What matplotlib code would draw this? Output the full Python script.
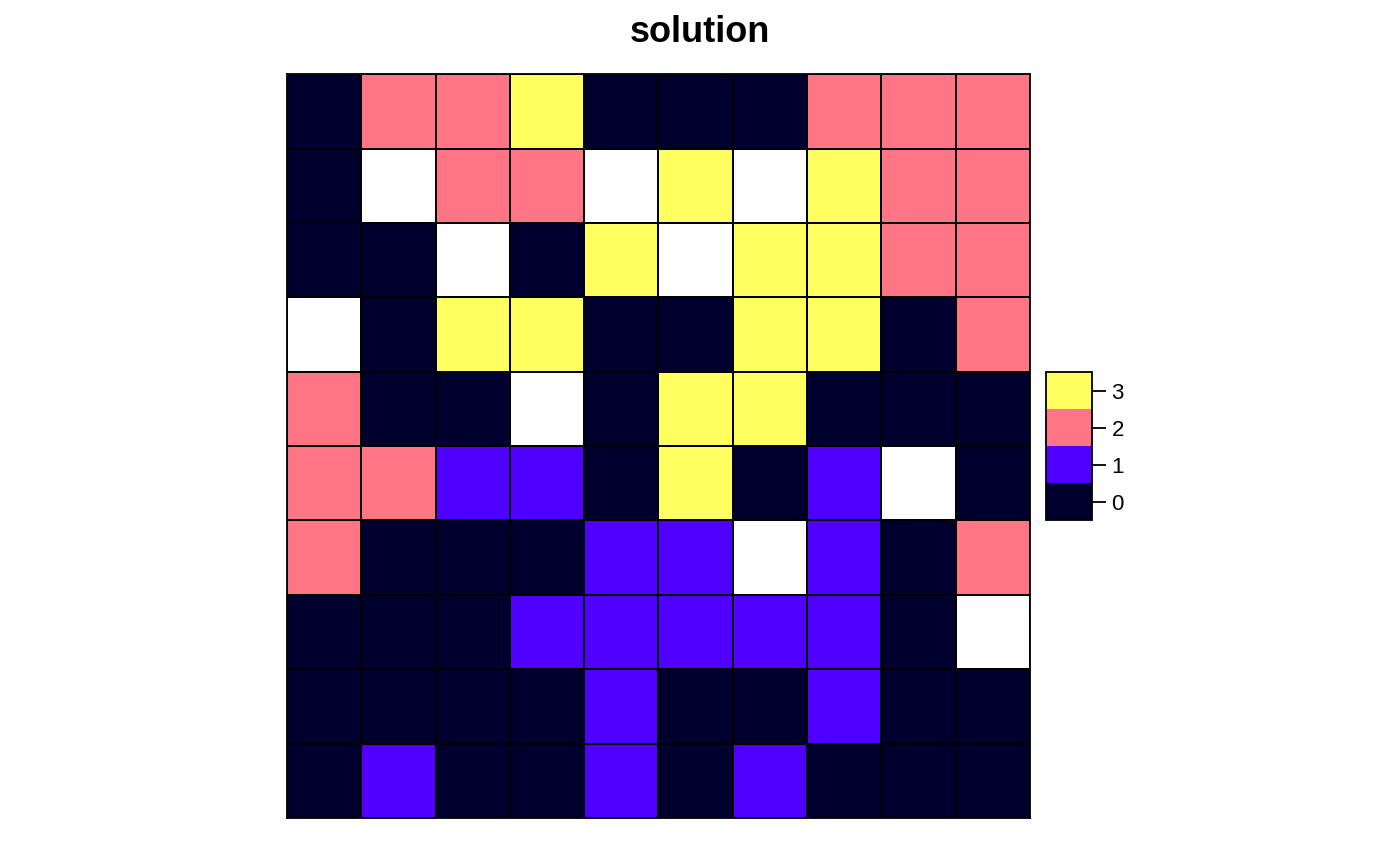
import matplotlib
matplotlib.use("Agg")
import matplotlib.pyplot as plt
import numpy as np
from matplotlib.colors import ListedColormap, BoundaryNorm

plt.rcParams["font.family"] = ["Liberation Sans", "DejaVu Sans"]

# raster values, top row first; None = NA (drawn white)
grid_rows = [
    [0, 2, 2, 3, 0, 0, 0, 2, 2, 2],
    [0, None, 2, 2, None, 3, None, 3, 2, 2],
    [0, 0, None, 0, 3, None, 3, 3, 2, 2],
    [None, 0, 3, 3, 0, 0, 3, 3, 0, 2],
    [2, 0, 0, None, 0, 3, 3, 0, 0, 0],
    [2, 2, 1, 1, 0, 3, 0, 1, None, 0],
    [2, 0, 0, 0, 1, 1, None, 1, 0, 2],
    [0, 0, 0, 1, 1, 1, 1, 1, 0, None],
    [0, 0, 0, 0, 1, 0, 0, 1, 0, 0],
    [0, 1, 0, 0, 1, 0, 1, 0, 0, 0],
]
levels = [0, 1, 2, 3]
level_colors = ["#00002E", "#5000FF", "#FF7586", "#FFFF60"]
title = "solution"

vals = np.array([[np.nan if v is None else v for v in r] for r in grid_rows], dtype=float)
masked = np.ma.masked_invalid(vals)

cmap = ListedColormap(level_colors)
cmap.set_bad("white")
bounds = np.arange(len(levels) + 1) - 0.5
norm = BoundaryNorm(bounds, cmap.N)

fig = plt.figure(figsize=(14, 8.66), dpi=100)
ax = fig.add_axes([0.205, 0.0554, 0.5307, 0.859])
nrow, ncol = vals.shape
ax.pcolormesh(np.arange(ncol + 1), np.arange(nrow + 1)[::-1], masked,
              cmap=cmap, norm=norm, edgecolors="black", linewidth=1.3)
ax.set_xlim(0, ncol)
ax.set_ylim(0, nrow)
ax.set_xticks([])
ax.set_yticks([])
for s in ax.spines.values():
    s.set_linewidth(1.3)

fig.text(0.5, 0.962, title, ha="center", va="center",
         fontsize=26, fontweight="bold")

cax = fig.add_axes([0.7471, 0.3995, 0.0329, 0.1709])
sm = plt.cm.ScalarMappable(cmap=cmap, norm=norm)
cb = fig.colorbar(sm, cax=cax, boundaries=bounds, ticks=levels)
cb.set_ticklabels([str(l) for l in levels])
cb.minorticks_off()
cb.outline.set_linewidth(1.3)
cax.tick_params(axis="y", length=10, width=1.3, labelsize=16, pad=4)

fig.savefig("out.png", dpi=100)
